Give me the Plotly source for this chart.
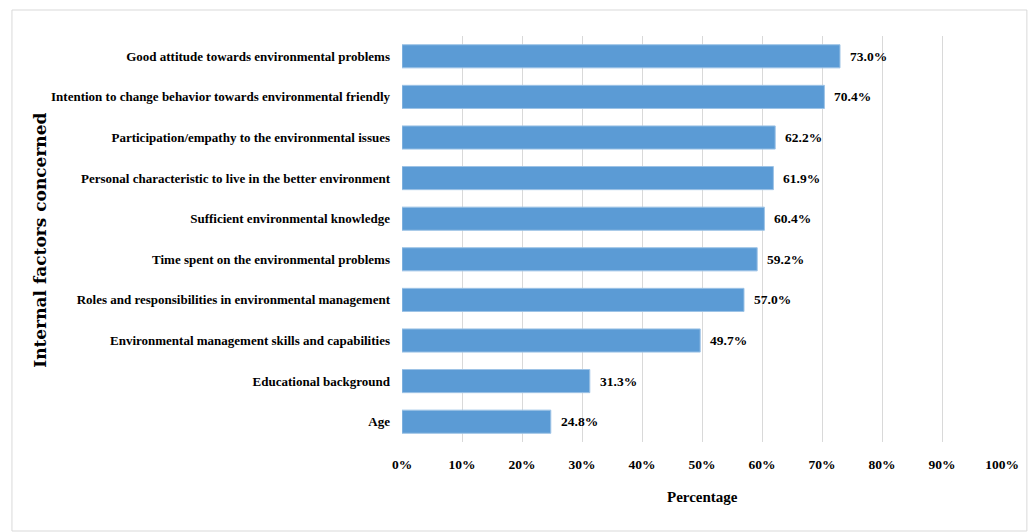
import plotly.graph_objects as go

categories = [
    "Good attitude towards environmental problems",
    "Intention to change behavior towards environmental friendly",
    "Participation/empathy to the environmental issues",
    "Personal characteristic to live in the better environment",
    "Sufficient environmental knowledge",
    "Time spent on the environmental problems",
    "Roles and responsibilities in environmental management",
    "Environmental management skills and capabilities",
    "Educational background",
    "Age",
]
values = [73.0, 70.4, 62.2, 61.9, 60.4, 59.2, 57.0, 49.7, 31.3, 24.8]
x_ticks = [0, 10, 20, 30, 40, 50, 60, 70, 80, 90, 100]
x_tick_labels = [f"{t}%" for t in x_ticks]

FONT = "Liberation Serif, Times New Roman, serif"
FONT_WIDE = "DejaVu Serif, serif"

# plot area in pixels
L, R, T, B = 402, 1005, 36, 442
W, H = 1031, 532
pw, ph = R - L, B - T


def px_x(p):
    return (p - L) / pw


def px_y(p):
    return (B - p) / ph


fig = go.Figure()
fig.add_trace(go.Bar(
    x=values,
    y=categories,
    orientation="h",
    marker=dict(color="#5B9BD5", line=dict(color="#9DC3E6", width=1)),
    width=0.57,
    hoverinfo="x+y",
))

annotations = []
for c, v in zip(categories, values):
    annotations.append(dict(
        x=v, y=c, xref="x", yref="y", text=f"<b>{v:.1f}%</b>",
        showarrow=False, xanchor="left", xshift=8, yanchor="middle",
        font=dict(family=FONT, size=13.5, color="#000000"),
    ))

annotations.append(dict(
    x=0.5, y=px_y(497), xref="paper", yref="paper", text="<b>Percentage</b>",
    showarrow=False, xanchor="center", yanchor="middle",
    font=dict(family=FONT, size=15, color="#000000"),
))
annotations.append(dict(
    x=px_x(38), y=px_y(240), xref="paper", yref="paper",
    text="<b>Internal factors concerned</b>", textangle=-90,
    showarrow=False, xanchor="center", yanchor="middle",
    font=dict(family=FONT_WIDE, size=17, color="#000000"),
))

fig.update_layout(
    width=W, height=H,
    margin=dict(l=L, r=W - R, t=T, b=H - B),
    paper_bgcolor="#FFFFFF",
    plot_bgcolor="#FFFFFF",
    showlegend=False,
    annotations=annotations,
    shapes=[dict(
        type="rect", xref="paper", yref="paper",
        x0=px_x(10), x1=px_x(1030), y0=px_y(531), y1=px_y(10),
        line=dict(color="#D9D9D9", width=1), fillcolor="rgba(0,0,0,0)",
        layer="below",
    )],
    xaxis=dict(
        range=[0, 100], tickvals=x_ticks, ticktext=[f"<b>{t}</b>" for t in x_tick_labels],
        showgrid=True, gridcolor="#D9D9D9", gridwidth=1, zeroline=False,
        showline=False, ticks="", ticklabelstandoff=12,
        tickfont=dict(family=FONT, size=13.5, color="#000000"),
    ),
    yaxis=dict(
        categoryorder="array", categoryarray=categories[::-1],
        tickvals=categories, ticktext=[f"<b>{c}</b>" for c in categories],
        showgrid=False, zeroline=False, showline=False, ticks="",
        ticklabelstandoff=11,
        tickfont=dict(family=FONT, size=13, color="#000000"),
    ),
)

fig.write_html("out.html")
